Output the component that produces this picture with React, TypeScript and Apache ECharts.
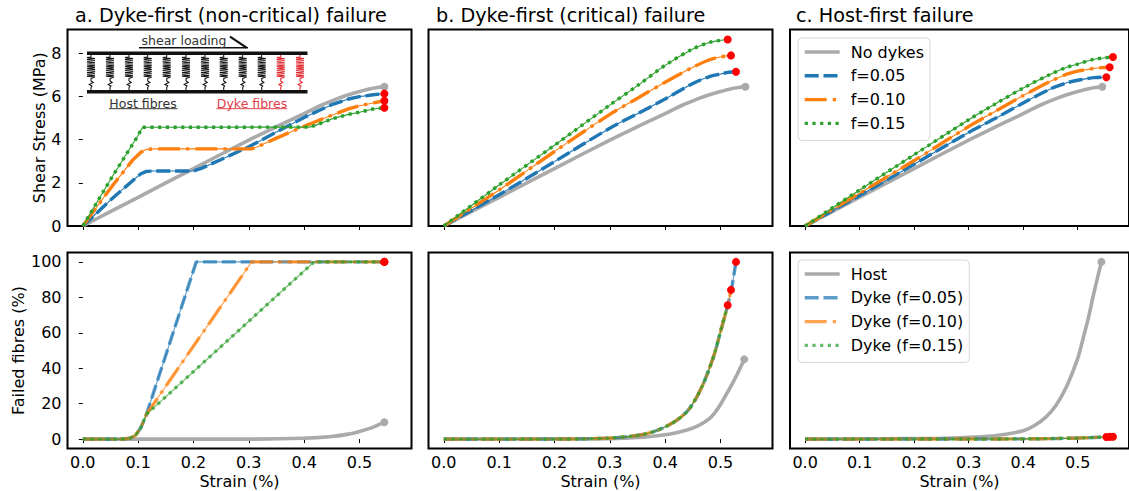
import React, { useEffect, useRef } from "react";
import * as echarts from "echarts";

const strainTicks = [0, 0.1, 0.2, 0.3, 0.4, 0.5];
const stressTicks = [0, 2, 4, 6, 8];
const failedTicks = [0, 20, 40, 60, 80, 100];
const titles = ["a. Dyke-first (non-critical) failure", "b. Dyke-first (critical) failure", "c. Host-first failure"];
const stressNames = ["No dykes", "f=0.05", "f=0.10", "f=0.15"];
const failedNames = ["Host", "Dyke (f=0.05)", "Dyke (f=0.10)", "Dyke (f=0.15)"];

const stressHost = [[0,0],[0.1,1.33],[0.2,2.66],[0.3,3.98],[0.35,4.6],[0.4,5.2],[0.43,5.58],[0.46,5.9],[0.48,6.08],[0.5,6.23],[0.52,6.36],[0.535,6.42],[0.545,6.45]];

const stressA05 = [[0,0],[0.05,1.2],[0.09,2.1],[0.105,2.42],[0.115,2.53],[0.13,2.55],[0.2,2.55],[0.215,2.68],[0.25,3.08],[0.3,3.67],[0.35,4.35],[0.4,5.03],[0.45,5.62],[0.48,5.88],[0.5,5.99],[0.525,6.08],[0.545,6.13]];
const stressA10 = [[0,0],[0.05,1.75],[0.09,3.05],[0.105,3.42],[0.115,3.55],[0.13,3.57],[0.305,3.57],[0.32,3.72],[0.35,4.07],[0.4,4.62],[0.45,5.13],[0.48,5.42],[0.5,5.57],[0.525,5.7],[0.545,5.8]];
const stressA15 = [[0,0],[0.05,2.15],[0.1,4.2],[0.108,4.57],[0.41,4.58],[0.42,4.66],[0.45,4.96],[0.48,5.17],[0.5,5.27],[0.525,5.42],[0.545,5.48]];

const stressB05 = [[0,0],[0.1,1.45],[0.2,2.98],[0.3,4.53],[0.35,5.2],[0.4,5.88],[0.45,6.6],[0.48,6.92],[0.5,7.04],[0.515,7.12],[0.528,7.14]];
const stressB10 = [[0,0],[0.1,1.67],[0.2,3.45],[0.3,5.17],[0.35,5.92],[0.4,6.66],[0.45,7.35],[0.48,7.7],[0.5,7.83],[0.519,7.9]];
const stressB15 = [[0,0],[0.1,1.9],[0.2,3.74],[0.3,5.6],[0.35,6.5],[0.4,7.44],[0.45,8.2],[0.48,8.5],[0.5,8.6],[0.513,8.64]];

const stressC05 = [[0,0],[0.1,1.41],[0.2,2.86],[0.3,4.33],[0.35,5.0],[0.4,5.7],[0.45,6.35],[0.48,6.63],[0.5,6.75],[0.53,6.87],[0.5525,6.89]];
const stressC10 = [[0,0],[0.1,1.52],[0.2,3.03],[0.3,4.61],[0.35,5.33],[0.4,6.04],[0.45,6.7],[0.48,7.03],[0.5,7.17],[0.53,7.3],[0.5586,7.35]];
const stressC15 = [[0,0],[0.1,1.67],[0.2,3.3],[0.3,4.92],[0.35,5.67],[0.4,6.39],[0.45,7.03],[0.48,7.35],[0.5,7.5],[0.53,7.72],[0.5646,7.83]];

const failedHostA = [[0,0],[0.3,0],[0.4,0.5],[0.45,1.5],[0.48,2.8],[0.5,4.3],[0.52,6.2],[0.535,8.2],[0.545,9.5]];
const failedA05 = [[0,0],[0.07,0],[0.085,0.5],[0.095,2],[0.105,6.5],[0.115,14],[0.205,100],[0.545,100]];
const failedA10 = [[0,0],[0.07,0],[0.085,0.5],[0.095,2],[0.105,6.5],[0.115,14],[0.305,100],[0.545,100]];
const failedA15 = [[0,0],[0.07,0],[0.085,0.5],[0.095,2],[0.105,6.5],[0.115,14],[0.418,100],[0.545,100]];

const failedHostB = [[0,0],[0.3,0.3],[0.35,0.9],[0.4,2.5],[0.42,3.6],[0.44,5.2],[0.46,7.6],[0.48,11.6],[0.49,15],[0.5,19.5],[0.51,25],[0.52,30.5],[0.53,36.5],[0.543,45]];
const failedB05 = [[0,0],[0.2,0],[0.25,0.15],[0.3,0.6],[0.34,1.7],[0.36,2.6],[0.38,4.3],[0.4,6.9],[0.42,10.4],[0.44,15.7],[0.45,20],[0.46,25.5],[0.47,32],[0.48,40],[0.49,49],[0.5,60.6],[0.513,75.5],[0.52,85],[0.528,100]];
const failedB10 = [[0,0],[0.2,0],[0.25,0.15],[0.3,0.6],[0.34,1.7],[0.36,2.6],[0.38,4.3],[0.4,6.9],[0.42,10.4],[0.44,15.7],[0.45,20],[0.46,25.5],[0.47,32],[0.48,40],[0.49,49],[0.5,60.6],[0.513,75.5],[0.519,84.2]];
const failedB15 = [[0,0],[0.2,0],[0.25,0.15],[0.3,0.6],[0.34,1.7],[0.36,2.6],[0.38,4.3],[0.4,6.9],[0.42,10.4],[0.44,15.7],[0.45,20],[0.46,25.5],[0.47,32],[0.48,40],[0.49,49],[0.5,60.6],[0.513,75.5]];

const failedHostC = [[0,0],[0.25,0.4],[0.3,1],[0.35,2],[0.4,4.7],[0.42,7.5],[0.44,12],[0.46,19],[0.48,30],[0.5,45.6],[0.51,57],[0.52,69],[0.53,83],[0.5435,100]];
const failedC05 = [[0,0],[0.3,0.05],[0.4,0.15],[0.45,0.3],[0.5,0.6],[0.5525,1.2]];
const failedC10 = [[0,0],[0.3,0.05],[0.4,0.15],[0.45,0.3],[0.5,0.6],[0.5586,1.25]];
const failedC15 = [[0,0],[0.3,0.05],[0.4,0.15],[0.45,0.3],[0.5,0.6],[0.5646,1.3]];

const GREY = "#aaaaaa";
const COLORS = ["#1f77b4", "#ff7f0e", "#2ca02c"];
const DASHES = [[14, 4.8], [22, 6, 3.3, 6], [3.2, 4.5]];
const FONT = "DejaVu Sans";
const LEFTS = [67.5, 428.5, 790];
const PANEL_W = 344;
const TOPS = [29.5, 252.5];
const HEIGHTS = [196.5, 196];

const last = (p: number[][]) => p[p.length - 1];

function panelSeries(grid: number, host: number[][], dykes: number[][][], names: string[], alpha: number, smooth: number | false, dykeSmooth: number | false) {
  const out: any[] = [];
  const base = { type: "line", xAxisIndex: grid, yAxisIndex: grid, symbol: "none", animation: false, silent: true };
  out.push({ ...base, name: names[0], data: host, smooth, lineStyle: { color: GREY, width: 3.6, cap: "butt" }, itemStyle: { color: GREY } });
  dykes.forEach((d, i) => {
    out.push({ ...base, data: d, smooth: dykeSmooth, lineStyle: { color: COLORS[i], width: 1.1, opacity: alpha } });
    out.push({ ...base, name: names[i + 1], data: d, smooth: dykeSmooth, lineStyle: { color: COLORS[i], width: 3.4, type: DASHES[i], cap: "butt", opacity: alpha }, itemStyle: { color: COLORS[i], opacity: alpha } });
  });
  out.push({ type: "scatter", xAxisIndex: grid, yAxisIndex: grid, silent: true, symbolSize: 8, itemStyle: { color: GREY, opacity: 1 }, data: [last(host)], clip: false, z: 5 });
  out.push({ type: "scatter", xAxisIndex: grid, yAxisIndex: grid, silent: true, symbolSize: 8, itemStyle: { color: "#ff0000", opacity: 1 }, data: dykes.map(last), clip: false, z: 6 });
  return out;
}

function spring(x: number, color: string) {
  const pts: number[][] = [[x, 55], [x, 57]];
  const coils = 11;
  for (let i = 0; i < coils; i++) {
    const y = 57.5 + (i * 20.5) / coils;
    pts.push([x - 4, y], [x + 4, y + 20.5 / coils / 2]);
  }
  pts.push([x, 78.5], [x, 81], [x + 2.2, 82.5], [x - 1.8, 84.5], [x + 1, 86], [x, 87.5], [x, 91]);
  return { type: "polyline", shape: { points: pts }, style: { stroke: color, lineWidth: 1.05, fill: null }, silent: true, z: 10 };
}

function insetGraphics() {
  const black = "#111111";
  const red = "#e0282e";
  const els: any[] = [];
  const xs = [91, 110, 129, 147.7, 166.7, 186, 205, 223.7, 242.7, 261.7, 280.7, 300];
  xs.forEach((x, i) => els.push(spring(x, i >= 10 ? red : "#111111")));
  els.push({ type: "rect", shape: { x: 87, y: 51.5, width: 220.5, height: 3.6 }, style: { fill: black }, z: 11 });
  els.push({ type: "rect", shape: { x: 87, y: 90, width: 220.5, height: 3.6 }, style: { fill: black }, z: 11 });
  els.push({ type: "line", shape: { x1: 139, y1: 47.7, x2: 248, y2: 47.7 }, style: { stroke: black, lineWidth: 1.6 }, z: 11 });
  els.push({ type: "line", shape: { x1: 230, y1: 36.7, x2: 246.5, y2: 47.7 }, style: { stroke: black, lineWidth: 2.2 }, z: 11 });
  const txt = (text: string, x: number, y: number, color: string) => ({ type: "text", x, y, z: 11, style: { text, fill: color, font: `12.5px '${FONT}'`, textAlign: "center", textVerticalAlign: "middle" } });
  els.push(txt("shear loading", 184, 40, "#333333"));
  els.push(txt("Host fibres", 143, 103, "#333333"));
  els.push(txt("Dyke fibres", 252, 103, "#e0404a"));
  els.push({ type: "line", shape: { x1: 109, y1: 108.7, x2: 177.5, y2: 108.7 }, style: { stroke: "#333333", lineWidth: 1 }, z: 11 });
  els.push({ type: "line", shape: { x1: 216.5, y1: 108.7, x2: 287, y2: 108.7 }, style: { stroke: "#e0404a", lineWidth: 1 }, z: 11 });
  return els;
}

function legendOf(names: string[], left: number, top: number) {
  return {
    data: names, orient: "vertical", left, top, selectedMode: false,
    itemWidth: 35, itemHeight: 14, itemGap: 7.8,
    itemStyle: { opacity: 0, borderWidth: 0 },
    lineStyle: { width: 3.4, cap: "butt" },
    padding: [6, 6, 9, 5], borderColor: "#d6d6d6", borderWidth: 1, borderRadius: 4, backgroundColor: "rgba(255,255,255,0.8)",
    textStyle: { fontFamily: FONT, fontSize: 16, color: "#000", padding: [0, 0, 0, 6] },
  };
}

export default function App() {
  const ref = useRef<HTMLDivElement>(null);
  useEffect(() => {
    document.body.style.margin = "0";
    const chart = echarts.init(ref.current!, undefined, { renderer: "svg" });
    const grids: any[] = [], xAxes: any[] = [], yAxes: any[] = [];
    for (let r = 0; r < 2; r++) {
      for (let c = 0; c < 3; c++) {
        grids.push({ left: LEFTS[c], top: TOPS[r], width: PANEL_W, height: HEIGHTS[r], show: true, borderColor: "#000", borderWidth: 2, backgroundColor: "transparent" });
        const idx = r * 3 + c;
        xAxes.push({
          type: "value", gridIndex: idx, min: -0.0277, max: 0.594, splitLine: { show: false }, axisLine: { show: false },
          axisTick: { show: true, length: 4, lineStyle: { color: "#000", width: 1 }, customValues: strainTicks },
          axisLabel: { show: r === 1, customValues: strainTicks, formatter: (v: number) => v.toFixed(1), fontFamily: FONT, fontSize: 16, color: "#000", margin: 6 },
          name: r === 1 ? "Strain (%)" : "", nameLocation: "middle", nameGap: 25, nameTextStyle: { fontFamily: FONT, fontSize: 16, color: "#000" },
        });
        const ticks = r === 0 ? stressTicks : failedTicks;
        yAxes.push({
          type: "value", gridIndex: idx, min: r === 0 ? 0 : -5.3, max: r === 0 ? 9.1 : 105.3, splitLine: { show: false }, axisLine: { show: false },
          axisTick: { show: c === 0, length: 4, lineStyle: { color: "#000", width: 1 }, customValues: ticks },
          axisLabel: { show: c === 0, customValues: ticks, fontFamily: FONT, fontSize: 16, color: "#000", margin: 6 },
          name: c === 0 ? (r === 0 ? "Shear Stress (MPa)" : "Failed fibres (%)") : "", nameLocation: "middle", nameGap: r === 0 ? 20 : 41,
          nameTextStyle: { fontFamily: FONT, fontSize: 16, color: "#000" },
        });
      }
    }
    chart.setOption({
      animation: false,
      backgroundColor: "#fff",
      title: titles.map((text, i) => ({ text, left: [75, 436, 796][i], top: 6, padding: 0, textStyle: { fontFamily: FONT, fontSize: 19.2, fontWeight: "normal", color: "#000" } })),
      grid: grids, xAxis: xAxes, yAxis: yAxes,
      legend: [legendOf(stressNames, 798, 38), legendOf(failedNames, 798, 260)],
      graphic: insetGraphics(),
      series: [
        ...panelSeries(0, stressHost, [stressA05, stressA10, stressA15], stressNames, 1, 0.3, false),
        ...panelSeries(1, stressHost, [stressB05, stressB10, stressB15], stressNames, 1, 0.3, 0.3),
        ...panelSeries(2, stressHost, [stressC05, stressC10, stressC15], stressNames, 1, 0.3, 0.3),
        ...panelSeries(3, failedHostA, [failedA05, failedA10, failedA15], failedNames, 0.72, 0.3, false),
        ...panelSeries(4, failedHostB, [failedB05, failedB10, failedB15], failedNames, 0.72, 0.3, 0.3),
        ...panelSeries(5, failedHostC, [failedC05, failedC10, failedC15], failedNames, 0.72, 0.3, 0.3),
      ],
    });
    return () => chart.dispose();
  }, []);
  return <div ref={ref} style={{ width: 1129, height: 491, overflow: "hidden" }} />;
}
